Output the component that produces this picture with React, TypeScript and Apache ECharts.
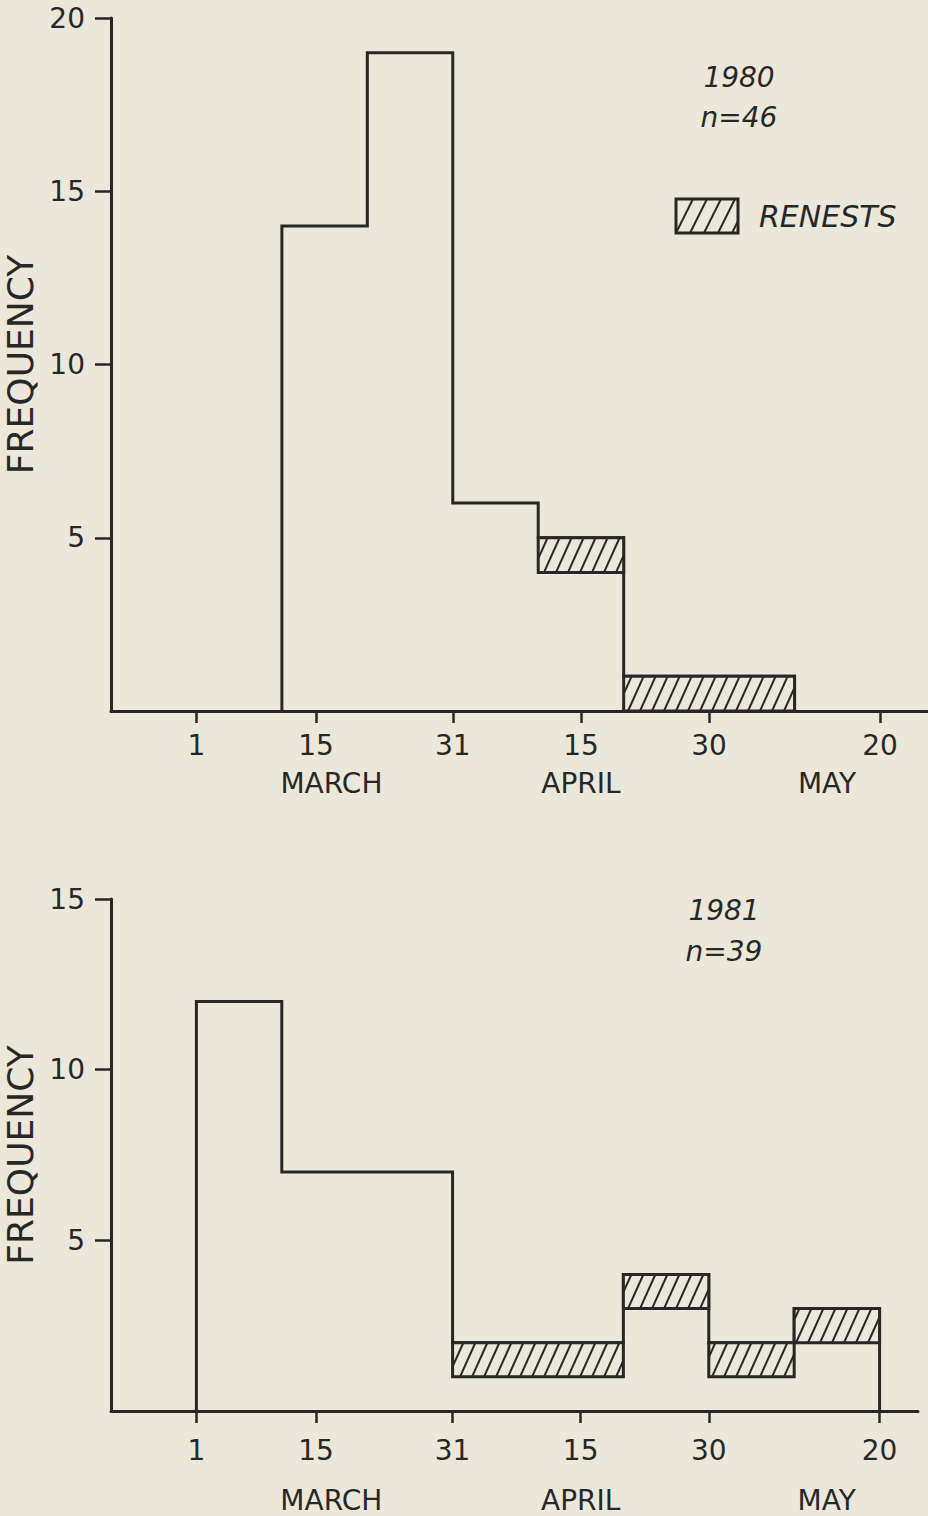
import React, { useEffect, useRef } from 'react';
import * as echarts from 'echarts';

// ---- data (x in days after 1 March) ----
const binEdges = [0, 10, 20, 30, 40, 50, 60, 70, 80];
const firstNests1980 = [0, 14, 19, 6, 4, 0, 0, 0];
const renests1980 = [0, 0, 0, 0, 1, 1, 1, 0];
const firstNests1981 = [12, 7, 7, 1, 1, 3, 1, 2];
const renests1981 = [0, 0, 0, 1, 1, 1, 1, 1];
const dayTicks = [0, 14, 30, 45, 60, 80];
const dayTickLabels = ['1', '15', '31', '15', '30', '20'];
const monthPositions = [15.8, 45, 73.8];
const monthLabels = ['MARCH', 'APRIL', 'MAY'];
const yTicks1980 = [5, 10, 15, 20];
const yTicks1981 = [5, 10, 15];
const yearLabels = ['1980', '1981'];
const nLabels = ['n=46', 'n=39'];
const legendLabel = 'RENESTS';

const INK = '#272727';
const BG = '#ebe7da';
const FONT = '"DejaVu Sans", sans-serif';

function outline(first: number[], ren: number[]) {
  const tot = first.map((v, i) => v + ren[i]);
  let a = 0;
  while (a < tot.length && tot[a] === 0) a++;
  let b = tot.length - 1;
  while (b > a && tot[b] === 0) b--;
  const pts: number[][] = [[binEdges[a], 0]];
  let prev = 0;
  for (let i = a; i <= b; i++) {
    const x = binEdges[i];
    if (tot[i] !== prev) {
      pts.push([x, prev]);
      pts.push([x, tot[i]]);
    }
    prev = tot[i];
  }
  pts.push([binEdges[b + 1], prev]);
  pts.push([binEdges[b + 1], 0]);
  return pts;
}

function renestBoxes(first: number[], ren: number[]) {
  const boxes: number[][] = [];
  for (let i = 0; i < first.length; i++) {
    if (ren[i] <= 0) continue;
    const lo = first[i];
    const hi = first[i] + ren[i];
    const last = boxes[boxes.length - 1];
    if (last && last[1] === binEdges[i] && last[2] === lo && last[3] === hi) {
      last[1] = binEdges[i + 1];
    } else {
      boxes.push([binEdges[i], binEdges[i + 1], lo, hi]);
    }
  }
  return boxes;
}

function hatchLines(x0: number, yTop: number, x1: number, yBot: number, spacing: number, k: number, lw: number) {
  const h = yBot - yTop;
  const out: any[] = [];
  let u = Math.ceil((x0 - k * h) / spacing) * spacing + 4;
  for (; u < x1; u += spacing) {
    const t1 = Math.max(0, (x0 - u) / k);
    const t2 = Math.min(h, (x1 - u) / k);
    if (t2 - t1 > 0.8) {
      out.push({
        type: 'line',
        shape: { x1: u + k * t1, y1: yBot - t1, x2: u + k * t2, y2: yBot - t2 },
        style: { stroke: INK, lineWidth: lw },
      });
    }
  }
  return out;
}

function hatchRender(params: any, api: any) {
  const p0 = api.coord([api.value(0), api.value(2)]);
  const p1 = api.coord([api.value(1), api.value(3)]);
  const x0 = p0[0], x1 = p1[0], yBot = p0[1], yTop = p1[1];
  return {
    type: 'group',
    children: [
      { type: 'rect', shape: { x: x0, y: yTop, width: x1 - x0, height: yBot - yTop }, style: { fill: BG } },
      ...hatchLines(x0, yTop, x1, yBot, 12, 0.45, 2),
      {
        type: 'rect',
        shape: { x: x0, y: yTop, width: x1 - x0, height: yBot - yTop },
        style: { fill: 'none', stroke: INK, lineWidth: 3, lineJoin: 'miter' },
      },
    ],
  };
}

function xAxes(grid: number, max: number, labelMargin: number, monthOffset: number) {
  return [
    {
      type: 'value', gridIndex: grid, min: -10, max, position: 'bottom',
      axisLine: { show: true, onZero: false, lineStyle: { color: INK, width: 3 } },
      axisTick: { show: true, length: 12, customValues: dayTicks, lineStyle: { color: INK, width: 2.5 } },
      axisLabel: {
        customValues: dayTicks, margin: labelMargin, color: INK, fontSize: 28, fontFamily: FONT,
        formatter: (v: number) => dayTickLabels[dayTicks.indexOf(v)] ?? '',
      },
      splitLine: { show: false },
    },
    {
      type: 'value', gridIndex: grid, min: -10, max, position: 'bottom', offset: monthOffset,
      axisLine: { show: false }, axisTick: { show: false }, splitLine: { show: false },
      axisLabel: {
        customValues: monthPositions, margin: 8, color: INK, fontSize: 28, fontFamily: FONT,
        formatter: (v: number) => monthLabels[monthPositions.indexOf(v)] ?? '',
      },
    },
  ];
}

function yAxis(grid: number, max: number, ticks: number[]) {
  return {
    type: 'value', gridIndex: grid, min: 0, max, interval: 5,
    axisLine: { show: true, onZero: false, lineStyle: { color: INK, width: 3 } },
    axisTick: { show: true, length: 16, customValues: ticks, lineStyle: { color: INK, width: 2.5 } },
    axisLabel: { customValues: ticks, margin: 26, color: INK, fontSize: 28, fontFamily: FONT },
    splitLine: { show: false },
    name: 'FREQUENCY', nameLocation: 'middle', nameRotate: 90, nameGap: 61,
    nameTextStyle: { color: INK, fontSize: 36, fontFamily: FONT },
  };
}

function titleTexts(x: number, y1: number, y2: number, i: number) {
  const st = { fill: INK, fontSize: 28, fontStyle: 'italic', fontFamily: FONT, textAlign: 'center', textVerticalAlign: 'middle', align: 'center', verticalAlign: 'middle' };
  return [
    { type: 'text', x, y: y1, style: { ...st, text: yearLabels[i] } },
    { type: 'text', x, y: y2, style: { ...st, text: nLabels[i] } },
  ];
}

export default function App() {
  const ref = useRef<HTMLDivElement>(null);
  useEffect(() => {
    if (!ref.current) return;
    const chart = echarts.init(ref.current, null, { renderer: 'svg' });
    const lx0 = 676, lx1 = 738, ly0 = 199, ly1 = 233;
    const option: any = {
      animation: false,
      backgroundColor: BG,
      grid: [
        { left: 111, top: 18, width: 816, height: 693, containLabel: false, outerBoundsMode: 'none' },
        { left: 111, top: 899, width: 807, height: 512, containLabel: false, outerBoundsMode: 'none' },
      ],
      xAxis: [...xAxes(0, 85.5, 20, 50), ...xAxes(1, 84.5, 25, 67)],
      yAxis: [yAxis(0, 20, yTicks1980), yAxis(1, 15, yTicks1981)],
      series: [
        {
          type: 'line', name: '1980', xAxisIndex: 0, yAxisIndex: 0, data: outline(firstNests1980, renests1980),
          symbol: 'none', clip: false, lineStyle: { color: INK, width: 3, join: 'miter' }, z: 3,
        },
        {
          type: 'line', name: '1981', xAxisIndex: 2, yAxisIndex: 1, data: outline(firstNests1981, renests1981),
          symbol: 'none', clip: false, lineStyle: { color: INK, width: 3, join: 'miter' }, z: 3,
        },
        {
          type: 'custom', name: legendLabel, xAxisIndex: 0, yAxisIndex: 0, coordinateSystem: 'cartesian2d',
          data: renestBoxes(firstNests1980, renests1980), encode: { x: [0, 1], y: [2, 3] },
          renderItem: hatchRender, clip: false, z: 4,
        },
        {
          type: 'custom', name: legendLabel, xAxisIndex: 2, yAxisIndex: 1, coordinateSystem: 'cartesian2d',
          data: renestBoxes(firstNests1981, renests1981), encode: { x: [0, 1], y: [2, 3] },
          renderItem: hatchRender, clip: false, z: 4,
        },
      ],
      graphic: [
        ...titleTexts(739, 77, 117, 0),
        ...titleTexts(724, 910, 951, 1),
        {
          type: 'group',
          children: [
            ...hatchLines(lx0, ly0, lx1, ly1, 14, 0.5, 2),
            { type: 'rect', shape: { x: lx0, y: ly0, width: lx1 - lx0, height: ly1 - ly0 }, style: { fill: 'none', stroke: INK, lineWidth: 3 } },
          ],
        },
        {
          type: 'text', x: 759, y: 216,
          style: { text: legendLabel, fill: INK, fontSize: 30, fontStyle: 'italic', fontFamily: FONT, textAlign: 'left', textVerticalAlign: 'middle', align: 'left', verticalAlign: 'middle' },
        },
      ],
    };
    chart.setOption(option);
    return () => chart.dispose();
  }, []);
  return <div ref={ref} style={{ position: 'absolute', left: 0, top: 0, width: 928, height: 1516 }} />;
}
